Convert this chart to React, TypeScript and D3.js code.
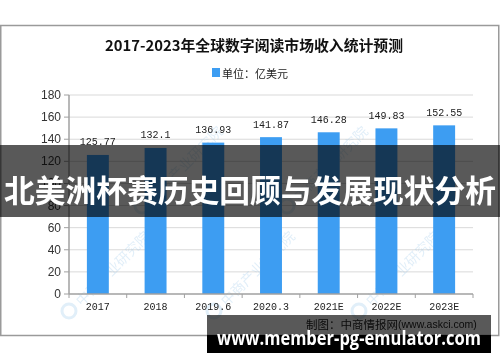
import React from "react";
import * as d3 from "d3";

const categories = ["2017", "2018", "2019.6", "2020.3", "2021E", "2022E", "2023E"];
const values = [125.77, 132.1, 136.93, 141.87, 146.28, 149.83, 152.55];
const valueLabels = ["125.77", "132.1", "136.93", "141.87", "146.28", "149.83", "152.55"];
const yTicks = [0, 20, 40, 60, 80, 100, 120, 140, 160, 180];
const title = "2017-2023年全球数字阅读市场收入统计预测";
const legendLabel = "单位：亿美元";
const sourceLabel = "制图：中商情报网";
const sourceUrl = "(www.askci.com)";
const bannerText = "北美洲杯赛历史回顾与发展现状分析";
const footerText = "www.member-pg-emulator.com";
const watermarkText = "中商产业研究院";

const W = 500;
const H = 362;

export default function App() {
  const x = d3.scaleBand<string>().domain(categories).range([69, 473]).paddingInner(0.62).paddingOuter(0.31);
  const y = d3.scaleLinear().domain([0, 180]).range([294, 95]);
  const step = x.step();

  const wmPositions: [number, number][] = [];
  for (let r = 0; r < 4; r++) {
    for (let c = -1; c < 5; c++) {
      const cx = 110 + c * 145 + (r % 2 === 1 ? -72 : 0);
      const cy = 60 + r * 105;
      if (cx - 53 >= 2 && cx + 44 <= 497 && cy - 44 >= 27 && cy + 53 <= 333) wmPositions.push([cx, cy]);
    }
  }

  return (
    <svg width={W} height={H} style={{ position: "absolute", left: 0, top: 0, background: "#fff" }}>
      <rect x={0} y={0} width={W} height={H} fill="#fff" />
      {/* chart frame */}
      <rect x={0.75} y={25.5} width={498} height={310} fill="#fff" stroke="#9a9a9a" strokeWidth={1.5} />

      {/* gridlines */}
      {yTicks.filter((t) => t > 0).map((t) => (
        <line key={"g" + t} x1={69} x2={473} y1={y(t)} y2={y(t)} stroke="#d9d9d9" strokeWidth={1} />
      ))}

      {/* watermarks */}
      <g opacity={0.3}>
        {wmPositions.map(([cx, cy], i) => (
          <g key={"wm" + i} transform={`translate(${cx},${cy}) rotate(-45)`}>
            <circle cx={-58} cy={0} r={7} fill="none" stroke="#9cc8ea" strokeWidth={3} />
            <text x={-46} y={0} dominantBaseline="central" fontSize={14} fontFamily="Noto Sans CJK SC" fill="#9cc8ea">
              {watermarkText}
            </text>
          </g>
        ))}
      </g>

      {/* bars */}
      {values.map((v, i) => (
        <rect key={"b" + i} x={x(categories[i])} y={y(v)} width={x.bandwidth()} height={y(0) - y(v)} fill="#3d9df2" />
      ))}

      {/* value labels */}
      {values.map((v, i) => (
        <text
          key={"v" + i}
          x={(x(categories[i]) as number) + x.bandwidth() / 2}
          y={y(v) - 12}
          textAnchor="middle"
          dominantBaseline="central"
          fontSize={10}
          fontFamily="Liberation Mono"
          fill="#222"
        >
          {valueLabels[i]}
        </text>
      ))}

      {/* y axis */}
      <line x1={69} x2={69} y1={95} y2={294} stroke="#a0a0a0" strokeWidth={1.5} />
      {yTicks.map((t) => (
        <g key={"yt" + t}>
          <line x1={64} x2={69} y1={y(t)} y2={y(t)} stroke="#a0a0a0" strokeWidth={1} />
          <text x={61} y={y(t)} textAnchor="end" dominantBaseline="central" fontSize={12} fontFamily="Liberation Sans" fill="#333">
            {t}
          </text>
        </g>
      ))}

      {/* x axis */}
      <line x1={69} x2={473} y1={294} y2={294} stroke="#a0a0a0" strokeWidth={1.5} />
      {categories.map((c, i) => (
        <line key={"xt" + i} x1={69 + step * i} x2={69 + step * i} y1={294} y2={298} stroke="#a0a0a0" strokeWidth={1} />
      ))}
      <line x1={473} x2={473} y1={294} y2={298} stroke="#a0a0a0" strokeWidth={1} />
      {categories.map((c) => (
        <text
          key={"xl" + c}
          x={(x(c) as number) + x.bandwidth() / 2}
          y={307}
          textAnchor="middle"
          dominantBaseline="central"
          fontSize={10}
          fontFamily="Liberation Mono"
          fill="#222"
        >
          {c}
        </text>
      ))}

      {/* title */}
      <text x={254} y={44} textAnchor="middle" dominantBaseline="central" fontSize={14.5} fontWeight="bold" fontFamily="Noto Sans CJK SC" fill="#111" textLength={298} lengthAdjust="spacingAndGlyphs">
        {title}
      </text>

      {/* legend */}
      <rect x={212} y={68} width={8} height={9} fill="#3d9df2" />
      <text x={222} y={73} dominantBaseline="central" fontSize={11} fontFamily="Noto Sans CJK SC" fill="#222">
        {legendLabel}
      </text>

      {/* source */}
      <text x={306} y={324} dominantBaseline="central" fontSize={11.5} fontFamily="Noto Sans CJK SC" fill="#222">
        {sourceLabel}
        <tspan fontFamily="Liberation Sans" fontSize={10.5}>{sourceUrl}</tspan>
      </text>

      {/* banner */}
      <rect x={0} y={145} width={W} height={72} fill="rgba(0,0,0,0.65)" />
      <text x={250} y={188} textAnchor="middle" dominantBaseline="central" fontSize={31} fontWeight="bold" fontFamily="Noto Sans CJK SC" fill="#fff" textLength={492} lengthAdjust="spacingAndGlyphs">
        {bannerText}
      </text>

      {/* footer */}
      <rect x={207} y={315} width={284} height={20} fill="rgba(0,0,0,0.65)" />
      <rect x={207} y={335} width={284} height={18} fill="#000" />
      <text x={349} y={337} textAnchor="middle" dominantBaseline="central" fontSize={20} fontWeight="bold" fontFamily="Open Sans" fill="#fff" textLength={264} lengthAdjust="spacingAndGlyphs">
        {footerText}
      </text>
    </svg>
  );
}
